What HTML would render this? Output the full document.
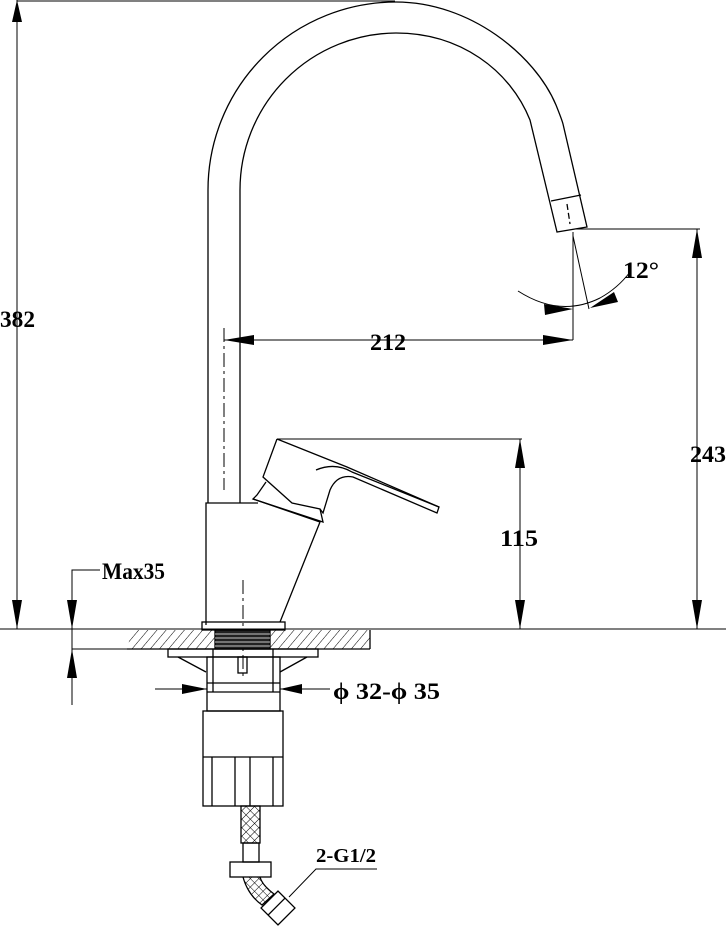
<!DOCTYPE html>
<html><head><meta charset="utf-8"><style>html,body{margin:0;padding:0;background:#fff}svg{display:block}</style></head><body>
<svg width="726" height="928" viewBox="0 0 726 928" xmlns="http://www.w3.org/2000/svg">
<defs>
<pattern id="h" width="7" height="7" patternUnits="userSpaceOnUse" patternTransform="rotate(40)"><line x1="0" y1="0" x2="0" y2="7" stroke="#000" stroke-width="1"/></pattern>
<pattern id="x" width="6" height="6" patternUnits="userSpaceOnUse" patternTransform="rotate(45)"><path d="M0 0V6M0 0H6" stroke="#000" stroke-width="1"/></pattern>
</defs>
<g fill="none" stroke="#000" stroke-width="1.3">
<!-- spout -->
<path d="M208,503 L208,190 A188,188 0 0 1 396,2 C470,2 535,55 556,105 C560,115 562,120 563,124 L587,227 L557,232 L530,120 C510,70 460,33 396,33 A157,157 0 0 0 240,190 L240,503"/>
<line x1="551" y1="201" x2="581" y2="195"/>
<line x1="567" y1="204" x2="570" y2="224" stroke-dasharray="6,3"/>
<!-- body -->
<path d="M206,625 L206,503 L258,503"/>
<path d="M253,499 L320,522 L280,622"/>
<!-- handle -->
<path d="M277,439 L347,467 L439,507 L437,513 L353,477 Q337,474 330,490 L323,513 L320,509 L292,503 L263,477 L277,439"/>
<path d="M316,470 Q335,462 352,472 L439,507"/>
<path d="M266,482 L257,495 L253,499 L323,522 L320,509"/>
<line x1="277" y1="439" x2="522" y2="439" stroke-width="1"/>
<line x1="224" y1="328" x2="224" y2="490" stroke-dasharray="14,4,3,4" stroke-width="1"/>
<line x1="243" y1="580" x2="243" y2="680" stroke-dasharray="14,4,3,4" stroke-width="1"/>
<!-- base -->
<rect x="202" y="622" width="83" height="8"/>
<path d="M132,630 L370,630 L370,649 L127,649 Z" fill="url(#h)" stroke="none"/>
<line x1="127" y1="649" x2="370" y2="649"/>
<line x1="370" y1="630" x2="370" y2="649"/>
<rect x="215" y="630" width="55" height="19" fill="#222"/>
<g stroke="#fff" stroke-width="0.7"><line x1="215" y1="634" x2="270" y2="634"/><line x1="215" y1="638" x2="270" y2="638"/><line x1="215" y1="642" x2="270" y2="642"/><line x1="215" y1="646" x2="270" y2="646"/></g>
<rect x="168" y="649" width="150" height="8"/>
<path d="M178,657 L206,672 M307,657 L280,672"/>
<rect x="207" y="657" width="73" height="54"/>
<line x1="207" y1="683" x2="280" y2="683"/><line x1="207" y1="692" x2="280" y2="692"/>
<line x1="213" y1="649" x2="213" y2="692"/><line x1="273" y1="649" x2="273" y2="692"/>
<rect x="238" y="657" width="9" height="16"/>
<rect x="203" y="711" width="80" height="95"/>
<line x1="203" y1="757" x2="283" y2="757"/>
<path d="M212,757V806M235,757V806M250,757V806M273,757V806"/>
<!-- hose -->
<rect x="241" y="806" width="19" height="37" fill="url(#x)"/>
<rect x="243" y="843" width="16" height="19"/>
<rect x="230" y="862" width="41" height="15"/>
<path d="M243,877 Q248,895 262,905 L274,894 Q262,885 260,877" fill="url(#x)"/>
<g transform="rotate(-45 278 908)"><rect x="266" y="896" width="24" height="24"/><line x1="266" y1="906" x2="290" y2="906"/></g>
<!-- dims -->
<g stroke-width="1">
<line x1="17" y1="0" x2="17" y2="629"/><line x1="17" y1="1" x2="395" y2="1"/>
<line x1="0" y1="629" x2="726" y2="629"/>
<line x1="697" y1="229" x2="697" y2="629"/><line x1="575" y1="229" x2="700" y2="229"/>
<line x1="520" y1="439" x2="520" y2="629"/>
<line x1="224" y1="340" x2="573" y2="340"/><line x1="573" y1="232" x2="573" y2="340"/>
<line x1="573" y1="236" x2="589" y2="309"/>
<path d="M518,291 Q560,318 600,298 Q618,288 630,272"/>
<path d="M72,705 V570 H100"/><line x1="72" y1="649" x2="130" y2="649"/>
<line x1="155" y1="689" x2="207" y2="689"/><line x1="280" y1="689" x2="330" y2="689"/>
<path d="M289,897 L316,869 H377"/>
</g>
</g>
<g fill="#000">
<path d="M17,0 L12,22 L22,22Z"/><path d="M17,629 L12,600 L22,600Z"/>
<path d="M697,229 L692,258 L702,258Z"/><path d="M697,629 L692,600 L702,600Z"/>
<path d="M520,439 L515,468 L525,468Z"/><path d="M520,629 L515,600 L525,600Z"/>
<path d="M224,340 L254,335 L254,345Z"/><path d="M573,340 L543,335 L543,345Z"/>
<path d="M573,309 L544,304 L545,315Z"/><path d="M590,308 L614,292 L618,302Z"/>
<path d="M72,629 L67,600 L77,600Z"/><path d="M72,649 L67,678 L77,678Z"/>
<path d="M207,689 L182,684 L182,694Z"/><path d="M280,689 L302,684 L302,694Z"/>
</g>
<g font-family="Liberation Serif, serif" font-weight="bold" font-size="23" fill="#000">
<text x="0" y="327" textLength="35" lengthAdjust="spacingAndGlyphs">382</text>
<text x="690" y="462" textLength="36" lengthAdjust="spacingAndGlyphs">243</text>
<text x="500" y="546" textLength="38" lengthAdjust="spacingAndGlyphs">115</text>
<text x="370" y="350" textLength="36" lengthAdjust="spacingAndGlyphs">212</text>
<text x="623" y="278" textLength="36" lengthAdjust="spacingAndGlyphs">12°</text>
<text x="102" y="579" textLength="63" lengthAdjust="spacingAndGlyphs">Max35</text>
<text x="333" y="699" textLength="107" lengthAdjust="spacingAndGlyphs">ϕ 32-ϕ 35</text>
<text x="316" y="862" font-size="20" textLength="60" lengthAdjust="spacingAndGlyphs">2-G1/2</text>
</g>
</svg>
</body></html>
